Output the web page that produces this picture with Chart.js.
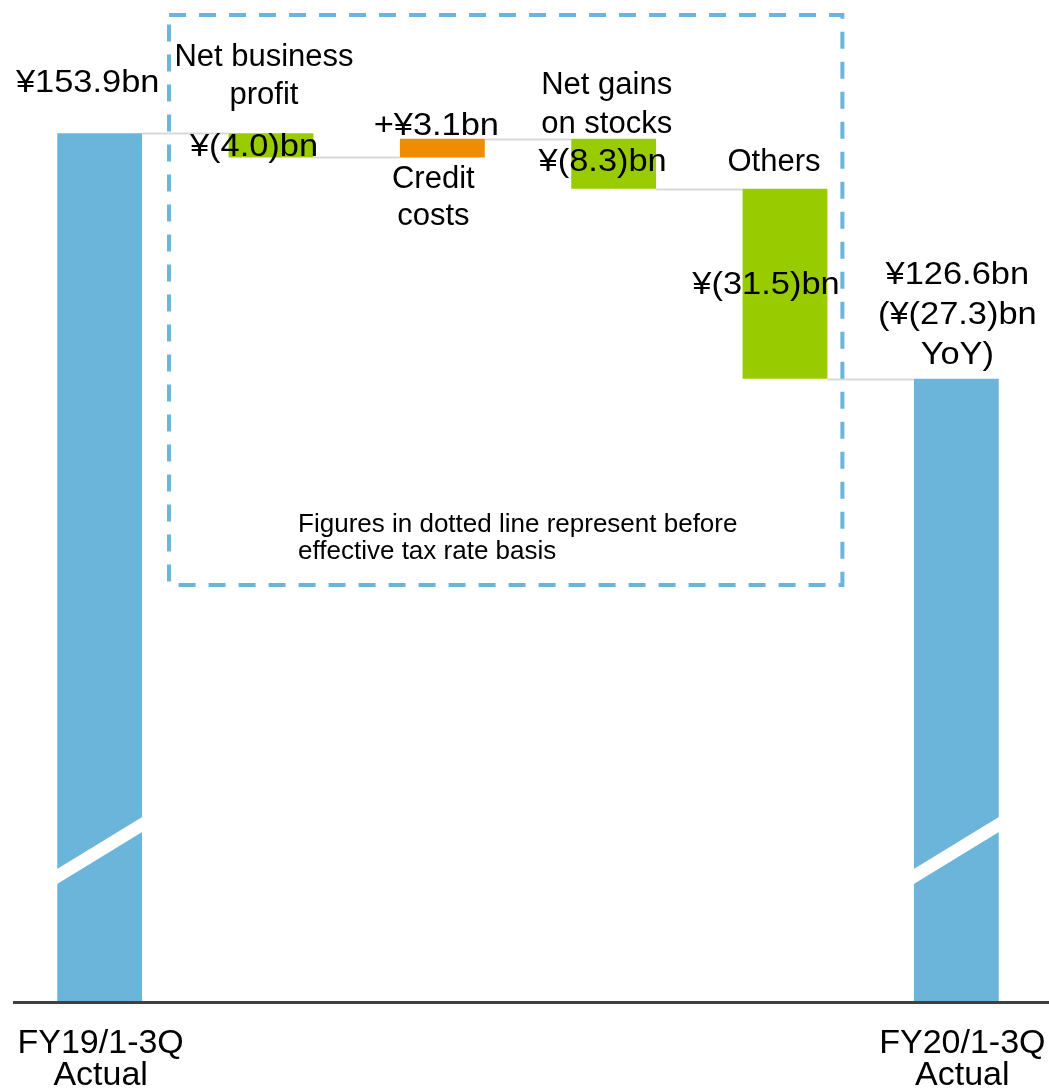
<!DOCTYPE html>
<html>
<head>
<meta charset="utf-8">
<script src="https://cdn.jsdelivr.net/npm/chart.js@4.4.1/dist/chart.umd.min.js"></script>
<style>
  html, body { margin: 0; padding: 0; background: #fff; }
  #wrap { width: 1049px; height: 1090px; position: relative; }
</style>
</head>
<body>
<div id="wrap"><canvas id="chart"></canvas></div>
<script>
// ---- data ----
const categories  = ['FY19/1-3Q Actual', 'Net business profit', 'Credit costs', 'Net gains on stocks', 'Others', 'FY20/1-3Q Actual'];
const axisLabels  = [['FY19/1-3Q', 'Actual'], [], [], [], [], ['FY20/1-3Q', 'Actual']];
const itemNames   = [[], ['Net business', 'profit'], ['Credit', 'costs'], ['Net gains', 'on stocks'], ['Others'], []];
const startValue  = 153.9;
const changes     = [-4.0, 3.1, -8.3, -31.5];   // before effective tax rate basis
const valueLabels = [['¥153.9bn'], ['¥(4.0)bn'], ['+¥3.1bn'], ['¥(8.3)bn'], ['¥(31.5)bn'], ['¥126.6bn', '(¥(27.3)bn', 'YoY)']];
const noteLines   = ['Figures in dotted line represent before', 'effective tax rate basis'];
const axisFloor   = 10;   // axis is broken, the two totals are cut

// running totals -> floating bars
const levels = [startValue];
changes.forEach(c => levels.push(+(levels[levels.length - 1] + c).toFixed(1)));
const ranges = [[axisFloor, startValue]];
changes.forEach((c, i) => ranges.push([Math.min(levels[i], levels[i + 1]), Math.max(levels[i], levels[i + 1])]));
ranges.push([axisFloor, levels[levels.length - 1]]);

const BLUE = '#6bb4da', GREEN = '#99cc00', ORANGE = '#f08c00';
const colors = ranges.map((r, i) =>
  (i === 0 || i === ranges.length - 1) ? BLUE : (changes[i - 1] > 0 ? ORANGE : GREEN));

const FONT = '31px "Liberation Sans", Arial, sans-serif';

// label anchors: [dx from bar centre, 'hi' | 'lo' edge of bar, dy, line height]
const nameAnchors  = [null, [-7, 'hi', -67, 38], [-9, 'lo', 31, 37], [-7, 'hi', -45, 39], [-11, 'hi', -18, 38], null];
const valueAnchors = [[-12, 'hi', -41, 38], [-17, 'lo', -1, 38], [-6, 'hi', -4, 38], [-11, 'hi', 32, 38], [-19, 'hi', 105, 38], [1, 'hi', -95, 40]];

function barBox(el) {
  return { x: el.x, w: el.width, hi: Math.min(el.y, el.base), lo: Math.max(el.y, el.base) };
}

function drawLines(ctx, arr, x, y, lh, sx) {
  arr.forEach((t, i) => {
    if (!sx) { ctx.fillText(t, x, y + i * lh); return; }
    // value labels are a bit wider in the source font
    ctx.save();
    ctx.translate(x, y + i * lh);
    ctx.scale(sx, 1);
    ctx.fillText(t, 0, 0);
    ctx.restore();
  });
}

const waterfallExtras = {
  id: 'waterfallExtras',
  beforeDatasetsDraw(chart) {
    const ctx = chart.ctx;
    const y = chart.scales.y;
    const bars = chart.getDatasetMeta(0).data.map(barBox);
    ctx.save();
    ctx.strokeStyle = '#d9d9d9';
    ctx.lineWidth = 2;
    for (let i = 0; i < bars.length - 1; i++) {
      const py = Math.round(y.getPixelForValue(levels[i])) + 0.5;
      ctx.beginPath();
      ctx.moveTo(bars[i].x + bars[i].w / 2, py);
      ctx.lineTo(bars[i + 1].x - bars[i + 1].w / 2, py);
      ctx.stroke();
    }
    ctx.restore();
  },
  afterDatasetsDraw(chart) {
    const ctx = chart.ctx;
    const { x: xs, y: ys } = chart.scales;
    const area = chart.chartArea;
    const bars = chart.getDatasetMeta(0).data.map(barBox);

    ctx.save();
    // break marks on the two total bars
    ctx.fillStyle = '#fff';
    [0, bars.length - 1].forEach(i => {
      const b = bars[i];
      const l = b.x - b.w / 2, r = b.x + b.w / 2;
      const s = 52 / b.w;
      const yl = b.lo - 132, yr = b.lo - 184;
      ctx.beginPath();
      ctx.moveTo(l - 3, yl + 3 * s);
      ctx.lineTo(r + 3, yr - 3 * s);
      ctx.lineTo(r + 3, yr - 3 * s + 15);
      ctx.lineTo(l - 3, yl + 3 * s + 15);
      ctx.closePath();
      ctx.fill();
    });

    // x axis line
    ctx.strokeStyle = '#404040';
    ctx.lineWidth = 3;
    ctx.beginPath();
    ctx.moveTo(13, area.bottom + 1.5);
    ctx.lineTo(chart.width, area.bottom + 1.5);
    ctx.stroke();

    // dotted box
    const bx1 = xs.getPixelForValue(0.405), bx2 = xs.getPixelForValue(4.335);
    const by1 = ys.getPixelForValue(173.5), by2 = ys.getPixelForValue(79);
    ctx.strokeStyle = BLUE;
    ctx.lineWidth = 4;
    ctx.setLineDash([17, 13]);
    ctx.strokeRect(bx1, by1, bx2 - bx1, by2 - by1);
    ctx.setLineDash([]);

    // texts
    ctx.fillStyle = '#000';
    ctx.textAlign = 'center';
    ctx.textBaseline = 'alphabetic';
    ctx.font = FONT;
    bars.forEach((b, i) => {
      const n = nameAnchors[i];
      if (n) drawLines(ctx, itemNames[i], b.x + n[0], b[n[1]] + n[2], n[3]);
      const v = valueAnchors[i];
      drawLines(ctx, valueLabels[i], b.x + v[0], b[v[1]] + v[2], v[3], 1.11);
    });

    ctx.font = '34px "Liberation Sans", Arial, sans-serif';
    axisLabels.forEach((lab, i) => {
      drawLines(ctx, lab, xs.getPixelForValue(i) + (i === 0 ? 1 : 6), area.bottom + 52, 32);
    });

    ctx.textAlign = 'left';
    ctx.font = '26px "Liberation Sans", Arial, sans-serif';
    drawLines(ctx, noteLines, bx1 + 129, by2 - 53, 27);
    ctx.restore();
  }
};

new Chart(document.getElementById('chart'), {
  type: 'bar',
  data: {
    labels: categories,
    datasets: [{
      data: ranges,
      backgroundColor: colors,
      borderWidth: 0,
      barPercentage: 0.495,
      categoryPercentage: 1.0
    }]
  },
  options: {
    responsive: true, maintainAspectRatio: false,
    animation: false,
    layout: { padding: { left: 14, right: 7, top: 0, bottom: 89 } },
    plugins: { legend: { display: false }, tooltip: { enabled: false } },
    scales: {
      x: { display: false },
      y: { display: false, min: axisFloor, max: 176 }
    }
  },
  plugins: [waterfallExtras]
});
</script>
</body>
</html>
